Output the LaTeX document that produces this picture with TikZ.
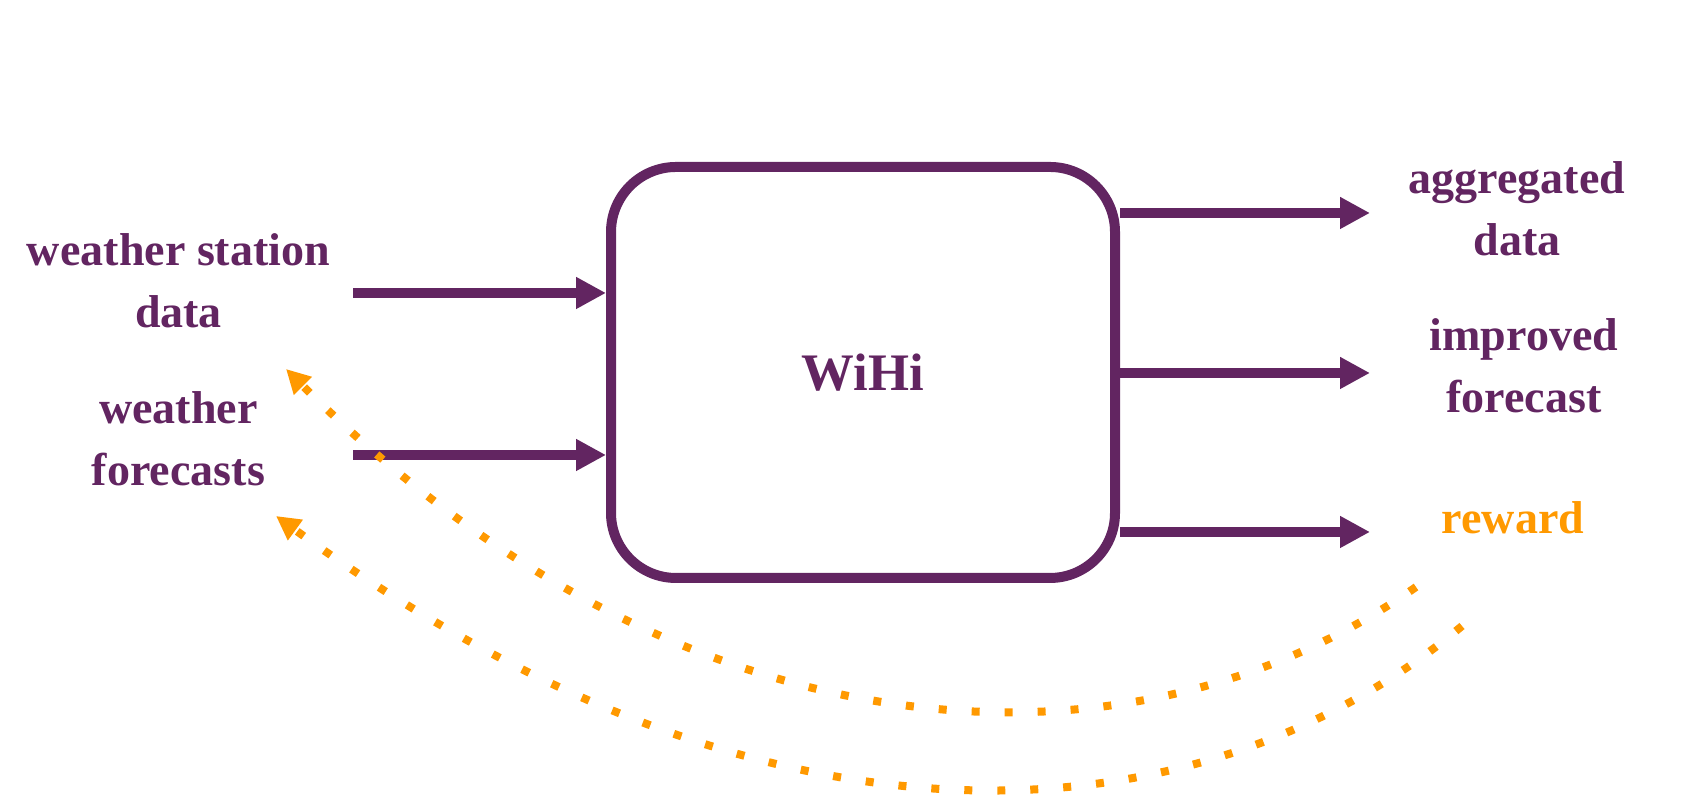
\documentclass[tikz,border=0pt]{standalone}
\usepackage{fontspec}
\setmainfont{Liberation Serif}
\usepackage{xcolor}
\definecolor{WiHiPurple}{RGB}{98,37,97}
\definecolor{WiHiOrange}{RGB}{255,153,0}
\usepackage{tikz}
\usetikzlibrary{calc, positioning, arrows.meta}

\begin{document}
\begin{tikzpicture}[
    font=\bfseries\fontsize{13.1pt}{17.6pt}\selectfont,
    iotext/.style={text=WiHiPurple, align=center, inner sep=0pt},
    flow/.style={WiHiPurple, line width=1mm, -{Triangle[length=3mm, width=3mm]}},
    feedback/.style={WiHiOrange, line width=0.8mm, dash pattern=on 0.8mm off 2.5mm, -{Triangle[length=2.4mm, width=2.4mm]}}
]
    \useasboundingbox (0,0) rectangle (17.03,7.95);

    % 1. THE WIHI BLOCK
    % Rounded box in the middle, everything flows through it
    \node[draw=WiHiPurple, line width=1mm, rounded corners=6.5mm, minimum width=5.04cm, minimum height=4.11cm,
          text=WiHiPurple, font=\bfseries\fontsize{15pt}{18pt}\selectfont] (wihi) at (8.63,4.225) {WiHi};

    % 2. INPUTS (left side)
    \node[iotext] (station) at (1.785,5.145) {weather station\\data};
    \node[iotext] (forecasts) at (1.785,3.565) {weather\\forecasts};
    \coordinate (in station) at (3.53,5.02);
    \coordinate (in forecasts) at (3.53,3.40);
    \draw[flow] (in station) -- (in station -| wihi.west);
    \draw[flow] (in forecasts) -- (in forecasts -| wihi.west);

    % 3. OUTPUTS (right side)
    \node[iotext] (aggregated) at (15.17,5.865) {aggregated\\data};
    \node[iotext] (improved) at (15.24,4.29) {improved\\forecast};
    \node[iotext, text=WiHiOrange] (reward) at (15.13,2.775) {reward};
    \coordinate (out aggregated) at (13.70,5.82);
    \coordinate (out improved) at (13.70,4.22);
    \coordinate (out reward) at (13.70,2.63);
    \foreach \o in {aggregated, improved, reward} {
        \draw[flow] (out \o -| wihi.east) -- (out \o);
    }

    % 4. FEEDBACK LOOPS
    % The reward goes back to both inputs
    \coordinate (loop station) at (14.16,2.08);
    \coordinate (head station) at (2.86,4.26);
    \coordinate (loop forecasts) at (14.62,1.69);
    \coordinate (head forecasts) at (2.76,2.79);
    \draw[feedback] (loop station) .. controls (11.22,0.02) and (6.75,0.37) .. (head station);
    \draw[feedback] (loop forecasts) .. controls (12.32,-0.24) and (8.10,-1.09) .. (head forecasts);

\end{tikzpicture}
\end{document}
